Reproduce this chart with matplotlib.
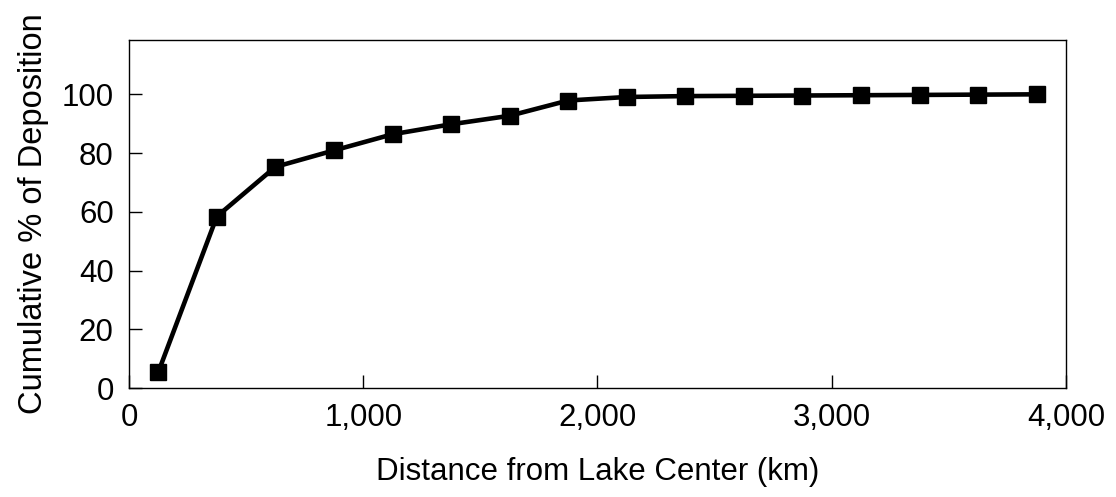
import numpy as np, matplotlib; matplotlib.use('Agg')
import matplotlib.pyplot as plt
from matplotlib.ticker import FuncFormatter

# distance bin centres (km) and cumulative deposition (%)
distance_km = [125, 375, 625, 875, 1125, 1375, 1625, 1875, 2125, 2375, 2625, 2875, 3125, 3375, 3625, 3875]
cum_pct = [5.4, 58.4, 75.3, 80.9, 86.4, 89.8, 92.7, 97.9, 99.1, 99.4, 99.5, 99.6, 99.7, 99.8, 99.9, 100.0]
xticks = [0, 1000, 2000, 3000, 4000]
yticks = [0, 20, 40, 60, 80, 100]

plt.rcParams['font.family'] = ['Liberation Sans', 'DejaVu Sans']
fig = plt.figure(figsize=(11.16, 4.97), dpi=100)
ax = fig.add_axes([0.1156, 0.2193, 0.8395, 0.7002])
ax.plot(distance_km, cum_pct, 'k-', lw=3.3, marker='s', ms=11, mfc='k', mec='k')
ax.set_xlim(0, 4000); ax.set_ylim(0, 118.5)
ax.set_xticks(xticks); ax.set_yticks(yticks)
ax.xaxis.set_major_formatter(FuncFormatter(lambda v, p: f'{int(v):,}'))
ax.tick_params(direction='in', length=9.5, width=1, labelsize=22.5, pad=11)
for s in ax.spines.values(): s.set_linewidth(1)
ax.set_xlabel('Distance from Lake Center (km)', fontsize=22.5, labelpad=17)
ax.set_ylabel('Cumulative % of Deposition', fontsize=23.5, labelpad=9)
fig.savefig('out.png', dpi=100)
